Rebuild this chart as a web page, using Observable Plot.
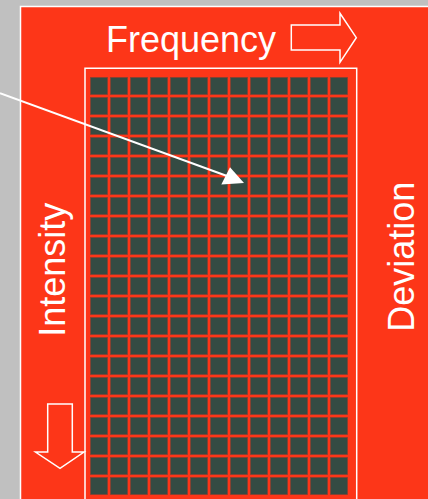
<!DOCTYPE html>
<html>
<head>
<meta charset="utf-8">
<script src="https://cdn.jsdelivr.net/npm/d3@7"></script>
<script src="https://cdn.jsdelivr.net/npm/@observablehq/plot@0.6"></script>
<style>
  html, body { margin: 0; padding: 0; background: #c0c0c0; }
  #chart svg { display: block; }
</style>
</head>
<body>
<div id="chart"></div>
<script>
// Grid of cells (13 frequency columns x 21 intensity rows, last row cut off)
const columns = [1,2,3,4,5,6,7,8,9,10,11,12,13];
const rows = [1,2,3,4,5,6,7,8,9,10,11,12,13,14,15,16,17,18,19,20,21];
const topLabel = "Frequency";
const leftLabel = "Intensity";
const rightLabel = "Deviation";

const cells = [];
for (const r of rows) for (const c of columns) cells.push({col: c, row: r});

const RED = "#fd3618";
const CELL = "#344b43";
const W = 428, H = 499;

const svgNode = Plot.plot({
  width: W,
  height: H,
  margin: 0,
  style: {background: "transparent", overflow: "hidden"},
  x: {type: "band", domain: columns, range: [85.4, 353.2], padding: 0, axis: null},
  y: {type: "band", domain: rows, range: [69.4, 69.4 + 21 * 20.6], padding: 0, axis: null},
  marks: [
    Plot.cell(cells, {x: "col", y: "row", fill: CELL, inset: 1.35, stroke: "#8e4130", strokeWidth: 0.6})
  ]
});

const svg = d3.select(svgNode);
const font = "'Liberation Sans', Arial, Helvetica, sans-serif";

// background layers (inserted beneath the cells)
const bg = svg.insert("g", ":first-child");
bg.append("rect").attr("x", 0).attr("y", 0).attr("width", W).attr("height", H).attr("fill", "#c0c0c0");
bg.append("rect").attr("x", 20.5).attr("y", 6.5).attr("width", W + 20).attr("height", H + 20)
  .attr("fill", RED).attr("stroke", "white").attr("stroke-width", 1.5);

// overlay
const fg = svg.append("g").attr("text-anchor", "start");
// white border around grid (left, top, right)
fg.append("path").attr("d", "M85,505 L85,68.3 L356.7,68.3 L356.7,505")
  .attr("fill", "none").attr("stroke", "white").attr("stroke-width", 1.5);

// pointer line and arrowhead
fg.append("line").attr("x1", 0).attr("y1", 93.3).attr("x2", 227).attr("y2", 176)
  .attr("stroke", "white").attr("stroke-width", 2);
fg.append("polygon").attr("points", "244,183 221.3,184.5 230,167.3").attr("fill", "white");

// right outline arrow
fg.append("polygon")
  .attr("points", "291.3,25 340,25 340,13.3 356.3,37.7 340,62.3 340,50 291.3,50")
  .attr("fill", "none").attr("stroke", "white").attr("stroke-width", 1.5);
// down outline arrow
fg.append("polygon")
  .attr("points", "47.7,404 72.3,404 72.3,452 84,452 60,468.3 35.5,452 47.7,452")
  .attr("fill", "none").attr("stroke", "white").attr("stroke-width", 1.5);

// labels
fg.append("text").attr("x", 106).attr("y", 51.7).attr("text-anchor", "start").text(topLabel)
  .attr("fill", "white").attr("font-family", font).attr("font-size", 36);
fg.append("text").attr("transform", "translate(65,269.7) rotate(-90)")
  .attr("text-anchor", "middle").text(leftLabel)
  .attr("fill", "white").attr("font-family", font).attr("font-size", 36);
fg.append("text").attr("transform", "translate(414,256.7) rotate(-90)")
  .attr("text-anchor", "middle").text(rightLabel)
  .attr("fill", "white").attr("font-family", font).attr("font-size", 36);

document.getElementById("chart").appendChild(svgNode);
</script>
</body>
</html>
